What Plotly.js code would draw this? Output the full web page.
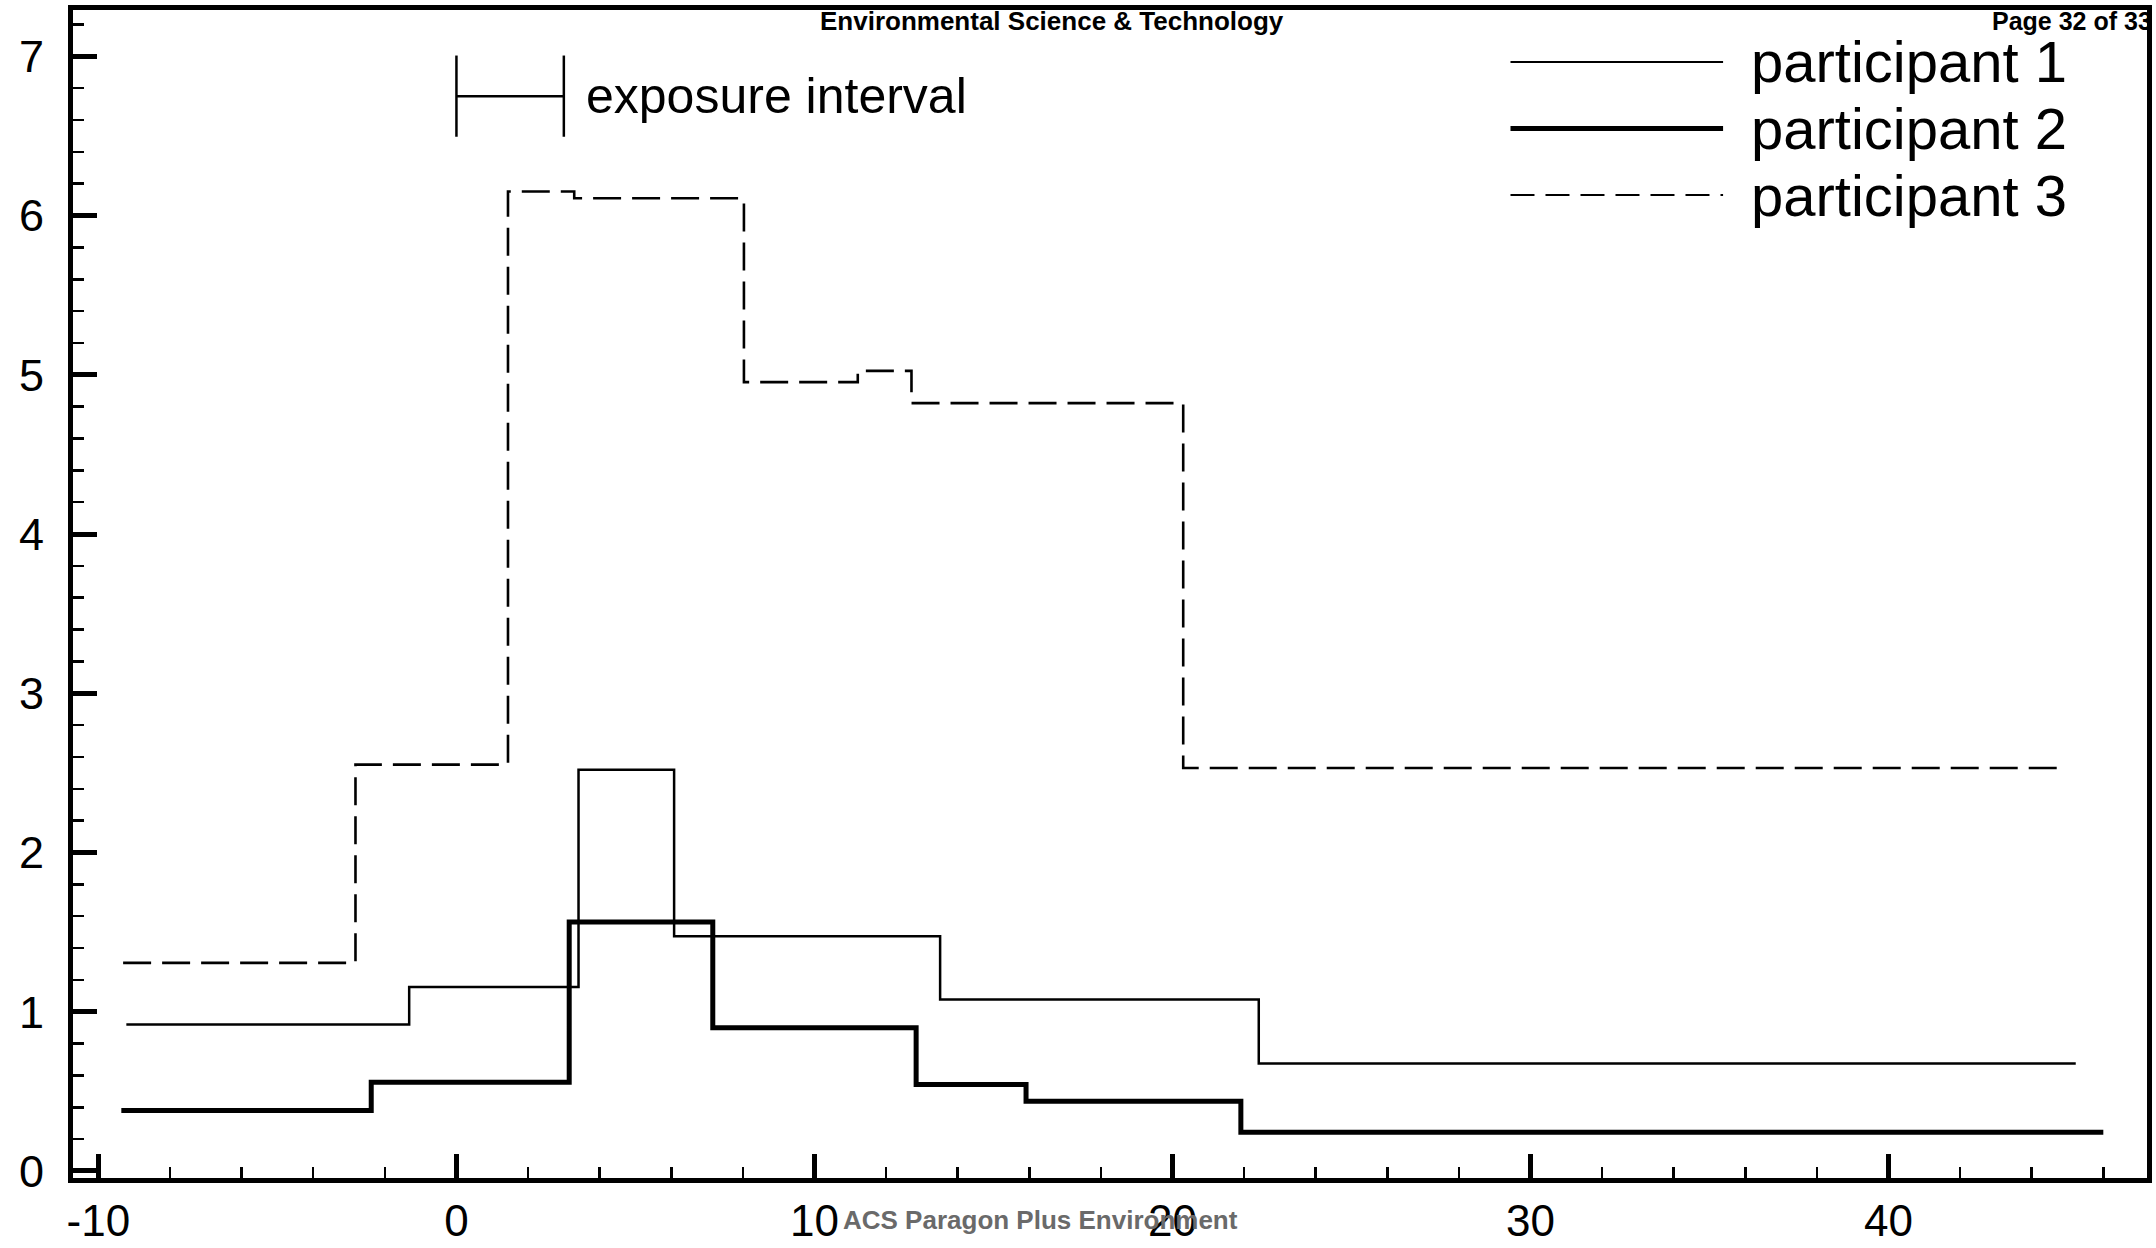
<!DOCTYPE html>
<html>
<head>
<meta charset="utf-8">
<script src="https://cdn.plot.ly/plotly-3.0.1.min.js"></script>
<style>
  html, body { margin: 0; padding: 0; background: #ffffff; }
  #chart { width: 2156px; height: 1248px; }
</style>
</head>
<body>
<div id="chart"></div>
<script>
// ---- data (x: time, y: value), step series ----
const p1X = [-9.22, -1.32, 3.41, 6.08, 13.51, 22.41, 45.23];
const p1Y = [0.92, 1.156, 2.52, 1.474, 1.077, 0.675, 0.675];

const p2X = [-9.36, -2.38, 3.15, 7.16, 12.84, 15.91, 21.91, 46.0];
const p2Y = [0.38, 0.557, 1.564, 0.899, 0.543, 0.438, 0.244, 0.244];

const p3X = [-9.31, -2.82, 1.44, 3.29, 8.03, 11.21, 12.71, 20.3, 44.9];
const p3Y = [1.307, 2.552, 6.151, 6.109, 4.954, 5.025, 4.822, 2.531, 2.531];

const seriesNames = ["participant 1", "participant 2", "participant 3"];

// exposure interval marker
const exposureStart = 0;
const exposureEnd = 3;
const exposureY = 6.75;
const exposureCapHalf = 0.255;
const exposureLabel = "exposure interval";

// axis ticks
const xTickVals = [-10, 0, 10, 20, 30, 40];
const xTickText = ["-10", "0", "10", "20", "30", "40"];
const yTickVals = [0, 1, 2, 3, 4, 5, 6, 7];
const yTickText = ["0", "1", "2", "3", "4", "5", "6", "7"];

// page texts
const headerText = "Environmental Science & Technology";
const pageText = "Page 32 of 33";
const footerText = "ACS Paragon Plus Environment";

// ---- build ----
const FONT = "Liberation Sans, Arial, Helvetica, sans-serif";

const styles = [
  {color: "#000000", width: 2.5, dash: "solid"},
  {color: "#000000", width: 5, dash: "solid"},
  {color: "#000000", width: 2.6, dash: "28px,11px"}
];
const legendStyles = [
  {color: "#000000", width: 2, dash: "solid"},
  {color: "#000000", width: 5, dash: "solid"},
  {color: "#000000", width: 2, dash: "24px,11px"}
];

const traces = [
  {x: p1X, y: p1Y},
  {x: p2X, y: p2Y},
  {x: p3X, y: p3Y}
].map((s, i) => ({
  type: "scatter",
  mode: "lines",
  x: s.x,
  y: s.y,
  name: seriesNames[i],
  showlegend: false,
  line: {shape: "hv", color: styles[i].color, width: styles[i].width, dash: styles[i].dash},
  hoverinfo: "skip"
}));

// exposure interval bracket
traces.push({
  type: "scatter",
  mode: "lines",
  x: [exposureStart, exposureStart, null, exposureStart, exposureEnd, null, exposureEnd, exposureEnd],
  y: [exposureY - exposureCapHalf, exposureY + exposureCapHalf, null,
      exposureY, exposureY, null,
      exposureY - exposureCapHalf, exposureY + exposureCapHalf],
  showlegend: false,
  line: {color: "#000000", width: 2.5},
  hoverinfo: "skip"
});

// manual legend (long line samples)
const legendLineX0 = 0.6931, legendLineX1 = 0.7956, legendTextX = 0.8082;
const legendRowsY = [0.9555, 0.8985, 0.8416];

const shapes = legendRowsY.map((yy, i) => ({
  type: "line", xref: "paper", yref: "paper",
  x0: legendLineX0, x1: legendLineX1, y0: yy, y1: yy,
  line: {color: legendStyles[i].color, width: legendStyles[i].width, dash: legendStyles[i].dash}
}));

const annotations = legendRowsY.map((yy, i) => ({
  xref: "paper", yref: "paper", x: legendTextX, y: yy,
  xanchor: "left", yanchor: "middle", showarrow: false,
  text: seriesNames[i],
  font: {family: FONT, size: 58, color: "#000000"}
}));

annotations.push({
  xref: "x", yref: "y", x: exposureEnd + 0.55, y: exposureY,
  xanchor: "left", yanchor: "middle", showarrow: false,
  text: exposureLabel,
  font: {family: FONT, size: 50, color: "#000000"}
});

annotations.push({
  xref: "paper", yref: "paper", x: 0.4719, y: 0.9902,
  xanchor: "center", yanchor: "middle", showarrow: false,
  text: "<b>" + headerText.replace("&", "&amp;") + "</b>",
  font: {family: FONT, size: 26, color: "#000000"}
});
annotations.push({
  xref: "paper", yref: "paper", x: 0.9243, y: 0.9910,
  xanchor: "left", yanchor: "middle", showarrow: false,
  text: "<b>" + pageText + "</b>",
  font: {family: FONT, size: 25, color: "#000000"}
});
annotations.push({
  xref: "paper", yref: "paper", x: 0.4663, y: -0.036,
  xanchor: "center", yanchor: "middle", showarrow: false,
  text: "<b>" + footerText + "</b>",
  font: {family: FONT, size: 26, color: "#6a6a6a"}
});

const axisCommon = {
  showline: true, linewidth: 5, linecolor: "#000000", mirror: true,
  showgrid: false, zeroline: false,
  ticks: "inside", ticklen: 24, tickwidth: 5, tickcolor: "#000000",
  tickfont: {family: FONT, size: 45, color: "#000000"},
  fixedrange: true
};

const layout = {
  width: 2156, height: 1248,
  paper_bgcolor: "#ffffff", plot_bgcolor: "#ffffff",
  margin: {l: 73, r: 9, t: 10, b: 70, pad: 0},
  showlegend: false,
  xaxis: Object.assign({}, axisCommon, {
    range: [-10.71, 47.22],
    tickmode: "array", tickvals: xTickVals, ticktext: xTickText,
    tickfont: {family: FONT, size: 44, color: "#000000"},
    ticklabelstandoff: 0,
    minor: {ticks: "inside", ticklen: 11, tickwidth: 2.5, tickcolor: "#000000", dtick: 2, tick0: 0, showgrid: false}
  }),
  yaxis: Object.assign({}, axisCommon, {
    range: [-0.044, 7.291],
    tickmode: "array", tickvals: yTickVals, ticktext: yTickText,
    ticklabelstandoff: 15,
    minor: {ticks: "inside", ticklen: 11, tickwidth: 2.5, tickcolor: "#000000", dtick: 0.2, tick0: 0, showgrid: false}
  }),
  shapes: shapes,
  annotations: annotations
};

Plotly.newPlot("chart", traces, layout, {displayModeBar: false, staticPlot: true});
</script>
</body>
</html>
